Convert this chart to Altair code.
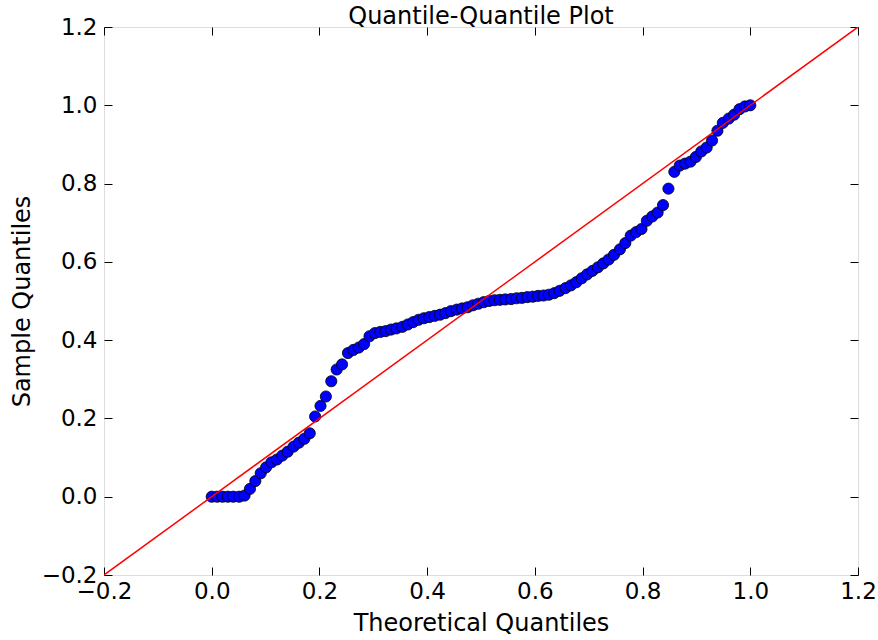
import altair as alt
import pandas as pd

theoretical = [0.000, 0.010, 0.020, 0.030, 0.040, 0.051, 0.061, 0.071, 0.081, 0.091,
               0.101, 0.111, 0.121, 0.131, 0.141, 0.152, 0.162, 0.172, 0.182, 0.192,
               0.202, 0.212, 0.222, 0.232, 0.242, 0.253, 0.263, 0.273, 0.283, 0.293,
               0.303, 0.313, 0.323, 0.333, 0.343, 0.354, 0.364, 0.374, 0.384, 0.394,
               0.404, 0.414, 0.424, 0.434, 0.444, 0.455, 0.465, 0.475, 0.485, 0.495,
               0.505, 0.515, 0.525, 0.535, 0.545, 0.556, 0.566, 0.576, 0.586, 0.596,
               0.606, 0.616, 0.626, 0.636, 0.646, 0.657, 0.667, 0.677, 0.687, 0.697,
               0.707, 0.717, 0.727, 0.737, 0.747, 0.758, 0.768, 0.778, 0.788, 0.798,
               0.808, 0.818, 0.828, 0.838, 0.848, 0.859, 0.869, 0.879, 0.889, 0.899,
               0.909, 0.919, 0.929, 0.939, 0.949, 0.960, 0.970, 0.980, 0.990, 1.000]

sample = [0, 0, 0, 0, 0, 0,
          0.003, 0.02, 0.04, 0.06,
          0.075, 0.088, 0.095, 0.105, 0.115,
          0.128, 0.138, 0.148, 0.162, 0.205,
          0.232, 0.256, 0.295, 0.325, 0.338,
          0.367, 0.375, 0.381, 0.39, 0.41,
          0.418, 0.421, 0.423, 0.427, 0.43,
          0.434, 0.44, 0.446, 0.452, 0.456,
          0.459, 0.462, 0.465, 0.469, 0.474,
          0.478, 0.481, 0.484, 0.489, 0.493,
          0.497, 0.5, 0.502, 0.503, 0.504,
          0.505, 0.507, 0.508, 0.51, 0.511,
          0.513, 0.514, 0.516, 0.52, 0.526,
          0.533, 0.54, 0.548, 0.558, 0.568,
          0.577, 0.586, 0.596, 0.606, 0.618,
          0.632, 0.648, 0.667, 0.676, 0.684,
          0.705, 0.716, 0.726, 0.745, 0.787,
          0.83, 0.846, 0.851, 0.856, 0.868,
          0.882, 0.892, 0.91, 0.935, 0.955,
          0.966, 0.976, 0.99, 0.997, 1.0]

ref_line = [-0.2, 1.2]
tick_values = [-0.2, 0.0, 0.2, 0.4, 0.6, 0.8, 1.0, 1.2]

FONT = "DejaVu Sans"
dom = [-0.2, 1.2]

pts_df = pd.DataFrame({"x": theoretical, "y": sample})
line_df = pd.DataFrame({"x": ref_line, "y": ref_line})

xscale = alt.Scale(domain=dom, nice=False, zero=False)
yscale = alt.Scale(domain=dom, nice=False, zero=False)

common_axis = dict(values=tick_values, format=".1f", domain=False, grid=False,
                   tickSize=8, tickColor="black", tickWidth=1, offset=-8,
                   labelFont=FONT, labelFontSize=23, labelColor="black",
                   labelFlush=False, labelOverlap=False,
                   titleFont=FONT, titleFontSize=24, titleFontWeight="normal",
                   titleColor="black")

points = alt.Chart(pts_df).mark_circle(
    size=125, color="#0000ff", stroke="black", strokeWidth=0.8, opacity=1
).encode(
    x=alt.X("x:Q", scale=xscale,
            axis=alt.Axis(orient="bottom", title="Theoretical Quantiles",
                          labelPadding=5, titlePadding=8, **common_axis)),
    y=alt.Y("y:Q", scale=yscale,
            axis=alt.Axis(orient="left", title="Sample Quantiles",
                          labelPadding=7, titlePadding=7, **common_axis)),
)

line = alt.Chart(line_df).mark_line(color="#ff0000", strokeWidth=1.5, clip=True).encode(
    x=alt.X("x:Q", scale=xscale,
            axis=alt.Axis(orient="top", title=None, labels=False, values=tick_values,
                          domain=False, grid=False, tickSize=8, tickColor="black",
                          offset=-8)),
    y=alt.Y("y:Q", scale=yscale,
            axis=alt.Axis(orient="right", title=None, labels=False, values=tick_values,
                          domain=False, grid=False, tickSize=8, tickColor="black",
                          offset=-8)),
)

chart = alt.layer(points, line).resolve_axis(
    x="independent", y="independent"
).properties(
    width=754, height=548,
    title=alt.Title("Quantile-Quantile Plot", font=FONT, fontSize=24,
                    fontWeight="normal", color="black", offset=-13),
    autosize=alt.AutoSizeParams(type="none"),
    padding={"left": 104, "top": 27, "right": 20, "bottom": 65},
).configure_view(
    stroke="black", strokeWidth=1.2
).configure(background="white")

chart.save("out.html", embed_options={"renderer": "svg", "actions": False})
